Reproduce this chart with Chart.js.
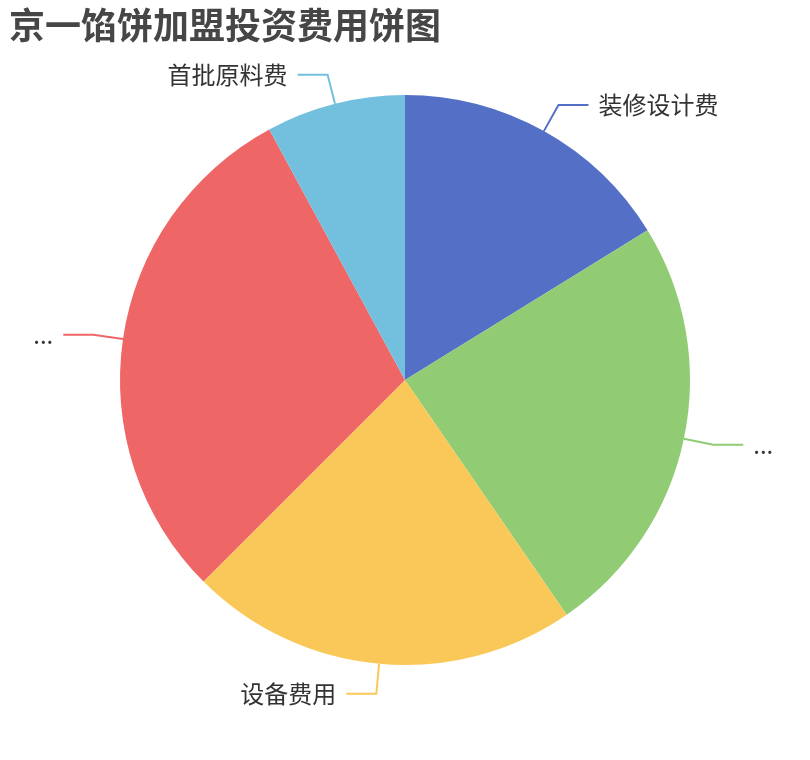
<!DOCTYPE html>
<html>
<head>
<meta charset="utf-8">
<script src="https://cdn.jsdelivr.net/npm/chart.js@4.4.1/dist/chart.umd.min.js"></script>
<style>
  html, body { margin: 0; padding: 0; background: #fff; }
  #wrap { width: 810px; height: 760px; position: relative; }
</style>
</head>
<body>
<div id="wrap"><canvas id="pieCanvas"></canvas></div>
<script>
const titleText = "京一馅饼加盟投资费用饼图"
const labels = ["装修设计费", "...", "设备费用", "...", "首批原料费"]
const values = [16.2, 24.2, 22.1, 29.6, 7.9]
const colors = ["#5470c6", "#91cc75", "#fac858", "#ee6666", "#73c0de"]

const fontFamily = "'Noto Sans CJK SC', 'Noto Sans', sans-serif"

// title + outside labels with leader lines (echarts look)
const pieLabels = {
    id: "pieLabels",
    afterDraw(chart) {
        const ctx = chart.ctx
        ctx.save()
        ctx.fillStyle = "#464646"
        ctx.font = "bold 36px " + fontFamily
        ctx.textBaseline = "middle"
        ctx.textAlign = "left"
        ctx.fillText(titleText, 9, 25)

        const meta = chart.getDatasetMeta(0)
        ctx.font = "24px " + fontFamily
        meta.data.forEach((arc, i) => {
            const p = arc.getProps(["x", "y", "startAngle", "endAngle", "outerRadius"], true)
            const mid = (p.startAngle + p.endAngle) / 2
            const cos = Math.cos(mid), sin = Math.sin(mid)
            const x0 = p.x + cos * p.outerRadius
            const y0 = p.y + sin * p.outerRadius
            const x1 = p.x + cos * (p.outerRadius + 30)
            const y1 = p.y + sin * (p.outerRadius + 30)
            const right = cos >= 0
            const x2 = x1 + (right ? 30 : -30)
            ctx.strokeStyle = colors[i]
            ctx.lineWidth = 2
            ctx.beginPath()
            ctx.moveTo(x0, y0)
            ctx.lineTo(x1, y1)
            ctx.lineTo(x2, y1)
            ctx.stroke()
            ctx.fillStyle = "#333"
            ctx.textAlign = right ? "left" : "right"
            ctx.fillText(labels[i], x2 + (right ? 10 : -10), y1)
        })
        ctx.restore()
    }
}

const pieCanvas = document.getElementById("pieCanvas")

const pieChart = new Chart(pieCanvas, {
    type: "pie",
    data: {
        labels: labels,
        datasets: [{
            data: values,
            backgroundColor: colors,
            borderWidth: 0,
            hoverOffset: 0
        }]
    },
    options: {
        responsive: true,
        maintainAspectRatio: false,
        animation: false,
        layout: {
            padding: { top: 95, bottom: 95, left: 120, right: 120 }
        },
        plugins: {
            legend: { display: false },
            tooltip: { enabled: false }
        }
    },
    plugins: [pieLabels]
})
</script>
</body>
</html>
